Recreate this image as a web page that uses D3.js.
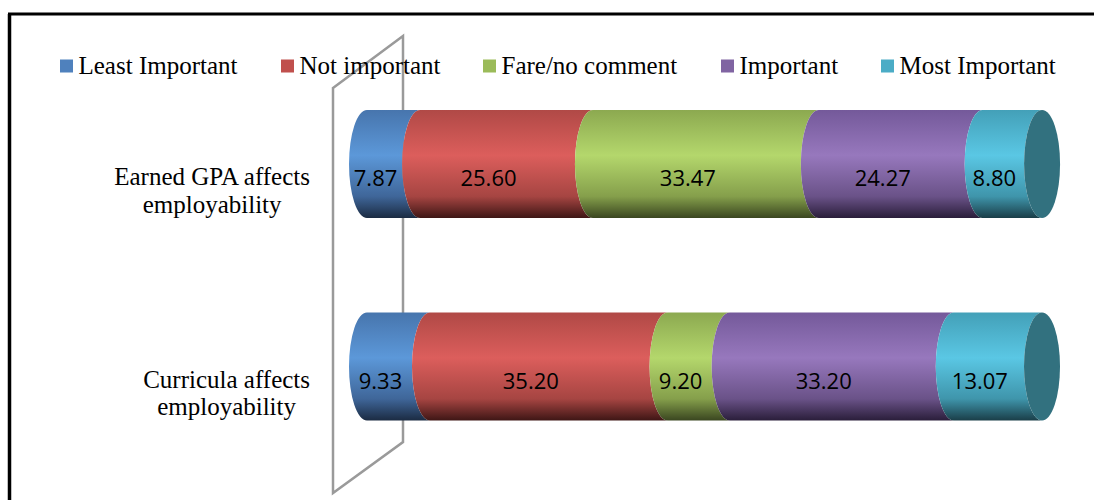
<!DOCTYPE html>
<html>
<head>
<meta charset="utf-8">
<script src="https://cdn.jsdelivr.net/npm/d3@7"></script>
<style>
html,body{margin:0;padding:0;background:#fff;}
svg{display:block;}
</style>
</head>
<body>
<svg id="chart" width="1094" height="500"></svg>
<script>
// ---- data ----
const categories = ["Earned GPA affects employability", "Curricula affects employability"];
const categoryLines = [["Earned GPA affects", "employability"], ["Curricula affects", "employability"]];
const seriesNames = ["Least Important", "Not important", "Fare/no comment", "Important", "Most Important"];
const gpaValues = [7.87, 25.60, 33.47, 24.27, 8.80];
const curriculaValues = [9.33, 35.20, 9.20, 33.20, 13.07];
const valueLabels = [["7.87","25.60","33.47","24.27","8.80"], ["9.33","35.20","9.20","33.20","13.07"]];
const xDomain = [0, 100];

// ---- styles ----
const baseColors = ["#4F81BD", "#C0504D", "#9BBB59", "#8064A2", "#4BACC6"];
const gradStops = [
  ["#4775ad", "#5c98d9", "#3f6699", "#1b2b42"],
  ["#b04946", "#dc5e5c", "#a64542", "#3e1615"],
  ["#8ca950", "#b4d76c", "#859f4b", "#3a4620"],
  ["#74599a", "#9778bd", "#6a5288", "#2a1e3a"],
  ["#43a0b8", "#5ac7e4", "#3f95ab", "#1a3e48"]
];
const capColor = "#32717f";

const svg = d3.select("#chart");
const defs = svg.append("defs");
gradStops.forEach((st, i) => {
  const g = defs.append("linearGradient").attr("id", "g" + i)
    .attr("x1", 0).attr("y1", 0).attr("x2", 0).attr("y2", 1);
  [[0, st[0]], [0.42, st[1]], [0.8, st[2]], [1, st[3]]].forEach(s =>
    g.append("stop").attr("offset", s[0]).attr("stop-color", s[1]));
});

// outer frame (left & top edges visible)
svg.append("line").attr("x1", 9.5).attr("y1", 14).attr("x2", 9.5).attr("y2", 500)
  .attr("stroke", "#000").attr("stroke-width", 3.5);
svg.append("line").attr("x1", 8).attr("y1", 14).attr("x2", 1094).attr("y2", 14)
  .attr("stroke", "#000").attr("stroke-width", 3);

// scales
const x = d3.scaleLinear().domain(xDomain).range([367, 1042]);
const y = d3.scalePoint().domain(categories).range([164, 366.5]);
const barH = 108, rx = 18, ry = barH / 2;

// back wall (gray parallelogram)
const wallDepth = 70, wallRise = 52;
const wx = x(0) - 34;
svg.append("path")
  .attr("d", `M${wx},88 L${wx + wallDepth},${88 - wallRise} L${wx + wallDepth},442 L${wx},493 Z`)
  .attr("fill", "none").attr("stroke", "#9a9a9a").attr("stroke-width", 2.5);

// legend
const legendX = [60, 281, 483, 721, 881];
const lg = svg.append("g");
seriesNames.forEach((n, i) => {
  lg.append("rect").attr("x", legendX[i]).attr("y", 59.5).attr("width", 13).attr("height", 13)
    .attr("fill", baseColors[i]);
  lg.append("text").attr("x", legendX[i] + 18.5).attr("y", 74)
    .attr("font-family", "'Liberation Serif', 'Times New Roman', serif")
    .attr("font-size", 25).attr("fill", "#000").text(n);
});

// bars
const allValues = [gpaValues, curriculaValues];
categories.forEach((cat, ci) => {
  const cy = y(cat), top = cy - ry, bot = cy + ry;
  const vals = allValues[ci];
  let cum = 0;
  const segs = vals.map((v, si) => { const s = { a: cum, b: cum + v, si }; cum += v; return s; });
  const g = svg.append("g");
  g.selectAll("path.seg").data(segs).join("path").attr("class", "seg")
    .attr("d", d => {
      const xa = x(d.a), xb = x(d.b);
      return `M${xa},${top} A${rx},${ry} 0 0 0 ${xa},${bot} L${xb},${bot} A${rx},${ry} 0 0 1 ${xb},${top} Z`;
    })
    .attr("fill", d => `url(#g${d.si})`);
  // end cap
  g.append("ellipse").attr("cx", x(cum)).attr("cy", cy).attr("rx", rx).attr("ry", ry)
    .attr("fill", capColor);
  // value labels
  g.selectAll("text.val").data(segs).join("text").attr("class", "val")
    .attr("x", d => (x(d.a) + x(d.b)) / 2 - rx)
    .attr("y", cy + 22)
    .attr("text-anchor", "middle")
    .attr("font-family", "'Open Sans', 'Noto Sans', sans-serif")
    .attr("font-size", 22).attr("fill", "#000")
    .text(d => valueLabels[ci][d.si]);
  // category label: lines centred on each other, block right edge at 310
  const lines = categoryLines[ci];
  const tg = svg.append("g");
  const ts = lines.map((l, li) => tg.append("text")
    .attr("y", cy + 21 + li * 27.5)
    .attr("text-anchor", "middle")
    .attr("font-family", "'Liberation Serif', 'Times New Roman', serif")
    .attr("font-size", 25).attr("fill", "#000").text(l));
  const maxW = d3.max(ts, t => t.node().getComputedTextLength());
  ts.forEach(t => t.attr("x", 310 - maxW / 2));
});
</script>
</body>
</html>
